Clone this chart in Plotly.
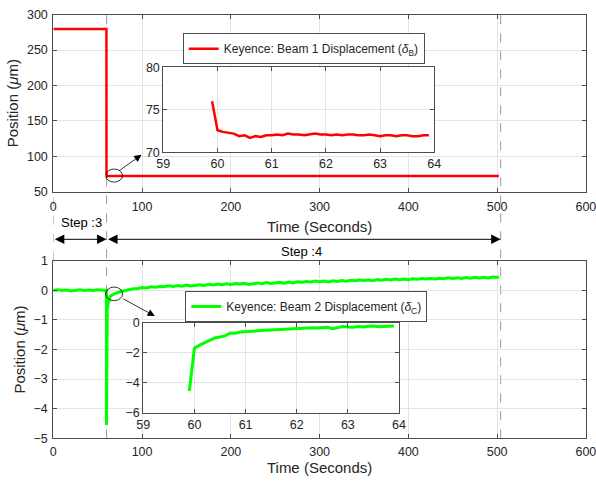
import plotly.graph_objects as go

# ---------------- data ----------------
zoom_t = [59.9, 60.0, 60.1, 60.2, 60.3, 60.4, 60.5, 60.6, 60.7, 60.8, 60.9,
          61.0, 61.1, 61.2, 61.3, 61.4, 61.5, 61.6, 61.7, 61.8, 61.9,
          62.0, 62.1, 62.2, 62.3, 62.4, 62.5, 62.6, 62.7, 62.8, 62.9,
          63.0, 63.1, 63.2, 63.3, 63.4, 63.5, 63.6, 63.7, 63.8, 63.9]
beam1_zoom = [76.0, 72.6, 72.4, 72.3, 72.2, 71.9, 72.0, 71.7, 71.9, 71.8, 72.0,
              72.0, 72.1, 72.0, 72.2, 72.1, 72.1, 72.0, 72.1, 72.2, 72.1,
              72.1, 72.0, 72.1, 72.0, 72.1, 72.1, 72.0, 72.0, 72.1, 72.0,
              71.9, 72.0, 72.0, 71.9, 72.0, 72.0, 71.9, 71.9, 72.0, 72.0]
beam2_zoom = [-4.55, -1.70, -1.50, -1.35, -1.20, -1.02, -0.95, -0.88, -0.68, -0.70, -0.62,
              -0.58, -0.56, -0.55, -0.52, -0.50, -0.48, -0.47, -0.45, -0.44, -0.43,
              -0.40, -0.40, -0.38, -0.34, -0.36, -0.33, -0.30, -0.40, -0.32, -0.25,
              -0.28, -0.30, -0.25, -0.28, -0.24, -0.22, -0.27, -0.28, -0.24, -0.22]

beam1_pre_t = [0, 59.8]
beam1_pre = [280, 280]
beam1_post_t = [70, 100, 200, 300, 400, 502]
beam1_post = [72.0, 72.0, 72.0, 72.0, 72.0, 72.0]

beam2_pre_t = [0, 5, 10, 15, 20, 25, 30, 35, 40, 45, 50, 55, 59.8]
beam2_pre = [0.00, 0.02, -0.01, 0.01, -0.02, 0.00, 0.02, -0.01, 0.01, -0.01, 0.02, 0.00, 0.00]
beam2_post_t = list(range(65, 501, 5)) + [502]
beam2_post = [-0.18, -0.10, -0.05, -0.01, 0.03, 0.05, 0.06, 0.09, 0.08, 0.12, 0.10, 0.13,
              0.12, 0.15, 0.13, 0.16, 0.14, 0.18, 0.15, 0.17, 0.19, 0.16, 0.20, 0.18,
              0.21, 0.19, 0.22, 0.20, 0.23, 0.21, 0.24, 0.20, 0.23, 0.25, 0.22, 0.26,
              0.23, 0.25, 0.27, 0.24, 0.28, 0.25, 0.29, 0.27, 0.30, 0.28, 0.31, 0.29,
              0.31, 0.28, 0.32, 0.30, 0.33, 0.31, 0.34, 0.32, 0.35, 0.33, 0.35, 0.32,
              0.36, 0.34, 0.37, 0.35, 0.38, 0.36, 0.38, 0.36, 0.39, 0.37, 0.40, 0.38,
              0.40, 0.38, 0.41, 0.39, 0.42, 0.40, 0.42, 0.40, 0.43, 0.41, 0.44, 0.42,
              0.44, 0.42, 0.45, 0.43, 0.46]

step_bounds = [0, 60, 504]
step_labels = ["Step :3", "Step :4"]

# ---------------- figure ----------------
FONT = "Liberation Sans, Arial, sans-serif"
AX = "#4d4d4d"
GRID = "#e3e3e3"
TXT = "#262626"

fig = go.Figure()
fig.add_trace(go.Scatter(x=beam1_pre_t + zoom_t + beam1_post_t, y=beam1_pre + beam1_zoom + beam1_post,
                         mode="lines", line=dict(color="#ff0000", width=2.5),
                         name="Keyence: Beam 1 Displacement (<i>δ</i><sub>B</sub>)",
                         xaxis="x", yaxis="y", legend="legend"))
fig.add_trace(go.Scatter(x=zoom_t, y=beam1_zoom, mode="lines", line=dict(color="#ff0000", width=2.5),
                         showlegend=False, xaxis="x3", yaxis="y3"))
fig.add_trace(go.Scatter(x=beam2_pre_t + zoom_t + beam2_post_t, y=beam2_pre + beam2_zoom + beam2_post,
                         mode="lines", line=dict(color="#00ff00", width=3),
                         name="Keyence: Beam 2 Displacement (<i>δ</i><sub>C</sub>)",
                         xaxis="x2", yaxis="y2", legend="legend2"))
fig.add_trace(go.Scatter(x=zoom_t, y=beam2_zoom, mode="lines", line=dict(color="#00ff00", width=3),
                         showlegend=False, xaxis="x4", yaxis="y4"))

def axstyle(**kw):
    d = dict(showline=True, linecolor=AX, linewidth=1, mirror="ticks", ticks="inside",
             ticklen=4, tickcolor=AX, showgrid=True, gridcolor=GRID, zeroline=False,
             automargin=False, ticklabeloverflow="allow",
             tickfont=dict(family=FONT, size=12.5, color=TXT))
    d.update(kw)
    return d

title_font = dict(family=FONT, size=15, color=TXT)
fig.update_layout(
    width=596, height=481, margin=dict(l=0, r=0, t=0, b=0),
    paper_bgcolor="white", plot_bgcolor="white",
    xaxis=axstyle(domain=[0.0895, 0.983], range=[0, 600], dtick=100, anchor="y",
                  ticklabelstandoff=3,
                  title=dict(text="Time (Seconds)", font=title_font, standoff=8)),
    yaxis=axstyle(domain=[0.6015, 0.9694], range=[50, 300], dtick=50, anchor="x",
                  ticklabelstandoff=2,
                  title=dict(text="Position (<i>μ</i>m)", font=title_font, standoff=4)),
    xaxis2=axstyle(domain=[0.0895, 0.983], range=[0, 600], dtick=100, anchor="y2",
                   ticklabelstandoff=2,
                   title=dict(text="Time (Seconds)", font=title_font, standoff=3)),
    yaxis2=axstyle(domain=[0.0888, 0.458], range=[-5, 1], dtick=1, anchor="x2",
                   ticklabelstandoff=2,
                   title=dict(text="Position (<i>μ</i>m)", font=title_font, standoff=4)),
    xaxis3=axstyle(domain=[0.274, 0.7287], range=[59, 64], dtick=1, anchor="y3"),
    yaxis3=axstyle(domain=[0.6834, 0.860], range=[70, 80], dtick=5, anchor="x3"),
    xaxis4=axstyle(domain=[0.2404, 0.6695], range=[59, 64], dtick=1, anchor="y4"),
    yaxis4=axstyle(domain=[0.142, 0.3291], range=[-6, 0], dtick=2, anchor="x4"),
    legend=dict(x=0.3066, y=0.9308, xanchor="left", yanchor="top", bgcolor="white",
                bordercolor=AX, borderwidth=1, font=dict(family=FONT, size=12, color=TXT),
                itemwidth=30, tracegroupgap=0),
    legend2=dict(x=0.311, y=0.395, xanchor="left", yanchor="top", bgcolor="white",
                 bordercolor=AX, borderwidth=1, font=dict(family=FONT, size=12, color=TXT),
                 itemwidth=30, tracegroupgap=0),
    showlegend=True,
)

# dashed step boundaries
for xb, y0, y1 in [(step_bounds[1], 0.0888, 0.9694), (step_bounds[2], 0.0888, 0.9694),
                   (step_bounds[0], 0.458, 0.6015)]:
    fig.add_shape(type="line", xref="x", yref="paper", x0=xb, x1=xb, y0=y0, y1=y1,
                  layer="below", line=dict(color="#9a9a9a", width=1, dash="dash"))

# step arrows
arrow_y = 1 - 239.3 / 481
for i, lab in enumerate(step_labels):
    fig.add_annotation(x=step_bounds[i + 1], y=arrow_y, xref="x", yref="paper",
                       ax=step_bounds[i], ay=0, axref="x", ayref="pixel",
                       showarrow=True, arrowhead=2, startarrowhead=2, arrowside="end+start",
                       arrowsize=1.9, startarrowsize=1.9, arrowwidth=1, arrowcolor="black", text="")
fig.add_annotation(x=(step_bounds[0] + step_bounds[1]) / 2 + 2, y=1 - 222 / 481, xref="x", yref="paper",
                   text=step_labels[0], showarrow=False, font=dict(family=FONT, size=13, color="black"))
fig.add_annotation(x=280, y=1 - 251.5 / 481, xref="x", yref="paper",
                   text=step_labels[1], showarrow=False, font=dict(family=FONT, size=13, color="black"))

# zoom ellipses and pointer arrows
fig.add_shape(type="circle", xref="x", yref="y", x0=59, x1=78, y0=63.5, y1=82,
              line=dict(color="black", width=0.8))
fig.add_shape(type="circle", xref="x2", yref="y2", x0=59, x1=78, y0=-0.35, y1=0.11,
              line=dict(color="black", width=0.8))
fig.add_annotation(x=99.3, y=102, xref="x", yref="y", ax=-24, ay=17, showarrow=True,
                   arrowhead=2, arrowsize=1.8, arrowwidth=0.8, arrowcolor="black", text="")
fig.add_annotation(x=114.3, y=-0.87, xref="x2", yref="y2", ax=-33, ay=-18, showarrow=True,
                   arrowhead=2, arrowsize=1.8, arrowwidth=0.8, arrowcolor="black", text="")

fig.write_html("out.html")
